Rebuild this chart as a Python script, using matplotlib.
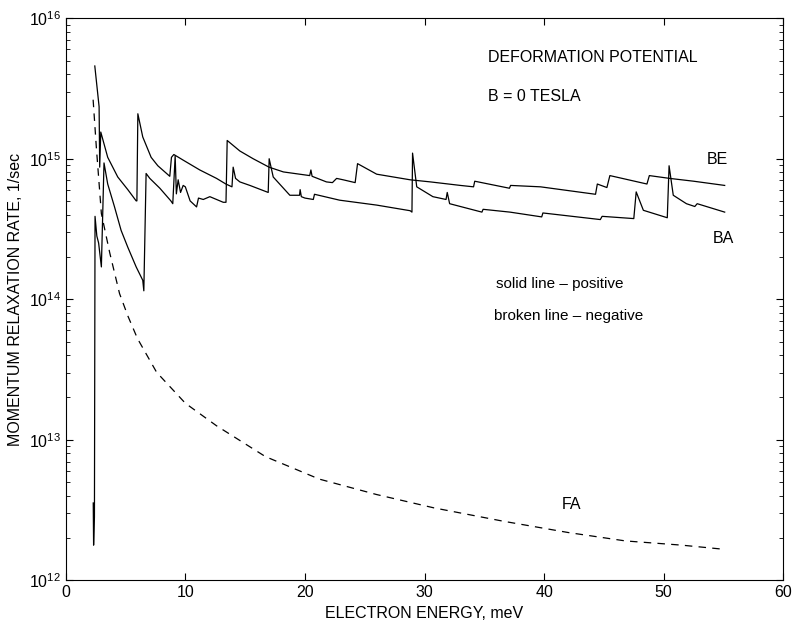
import matplotlib.pyplot as plt
import numpy as np

plt.switch_backend('agg')
plt.rcParams['font.family'] = ['Liberation Sans', 'DejaVu Sans']
plt.rcParams['mathtext.fontset'] = 'custom'
plt.rcParams['mathtext.rm'] = 'Liberation Sans'

# electron energy (meV) and log10 of momentum relaxation rate (1/sec)
be_energy = [2.30, 2.33, 2.40, 2.45, 2.60, 2.75, 2.98, 3.20, 3.51, 4.07, 4.63, 5.19, 5.89,
             6.44, 6.53, 6.72, 7.03, 7.87, 8.79, 8.95, 9.15, 9.25, 9.40, 9.60, 9.82, 10.0,
             10.4, 10.94, 11.1, 11.5, 12.05, 13.17, 13.40, 13.50, 14.56, 15.67, 17.0, 18.2,
             20.4, 20.5, 20.6, 21.8, 22.3, 22.65, 23.2, 24.2, 24.4, 26.0, 28.8, 30.5, 31.0,
             33.0, 34.1, 34.2, 37.1, 37.2, 39.7, 44.3, 44.45, 45.25, 45.5, 48.6, 48.8, 50.5,
             52.5, 55.1]
be_log = [12.55, 12.25, 12.45, 14.59, 14.45, 14.40, 14.23, 14.97, 14.82, 14.66, 14.49, 14.37,
          14.23, 14.135, 14.06, 14.895, 14.86, 14.79, 14.70, 14.68, 15.02, 14.75, 14.85, 14.76,
          14.81, 14.80, 14.70, 14.657, 14.72, 14.71, 14.73, 14.69, 14.69, 15.13, 15.055, 15.00,
          14.94, 14.906, 14.88, 14.92, 14.875, 14.835, 14.83, 14.86, 14.85, 14.83, 14.965, 14.89,
          14.85, 14.835, 14.83, 14.81, 14.80, 14.84, 14.79, 14.81, 14.80, 14.747, 14.82, 14.795,
          14.88, 14.82, 14.88, 14.86, 14.84, 14.81]

ba_energy = [2.43, 2.79, 2.84, 2.93, 3.51, 4.35, 5.19, 5.89, 5.95, 6.03, 6.44, 7.14, 7.70,
             8.70, 8.84, 9.04, 9.82, 11.21, 12.61, 13.39, 13.90, 14.0, 14.2, 14.56, 15.4,
             16.93, 17.01, 17.35, 18.74, 19.55, 19.6, 19.7, 20.0, 20.7, 20.8, 22.9, 26.0,
             28.8, 28.95, 29.0, 29.35, 30.7, 31.8, 31.9, 32.1, 34.8, 34.9, 37.15, 39.8, 39.9,
             44.7, 44.85, 47.5, 47.7, 48.3, 50.3, 50.45, 50.8, 51.9, 52.6, 52.8, 55.1]
ba_log = [15.66, 15.37, 14.94, 15.19, 15.01, 14.87, 14.78, 14.70, 14.70, 15.32, 15.155, 15.01,
          14.95, 14.875, 15.01, 15.03, 14.99, 14.92, 14.86, 14.82, 14.80, 14.94, 14.86, 14.835,
          14.81, 14.76, 15.00, 14.87, 14.74, 14.74, 14.78, 14.73, 14.72, 14.71, 14.747, 14.705,
          14.67, 14.63, 14.62, 15.04, 14.80, 14.73, 14.71, 14.76, 14.68, 14.62, 14.64, 14.62,
          14.586, 14.614, 14.567, 14.59, 14.574, 14.764, 14.633, 14.58, 14.95, 14.74, 14.68,
          14.66, 14.68, 14.62]

fa_energy = [2.29, 2.56, 2.98, 3.68, 4.5, 5.2, 6.0, 7.6, 10.0, 12.6, 16.7, 21.2, 26.0, 30.8,
             36.6, 42.0, 46.8, 51.5, 55.1]
fa_log = [15.42, 15.08, 14.61, 14.33, 14.04, 13.88, 13.72, 13.48, 13.26, 13.10, 12.88, 12.72,
          12.61, 12.515, 12.42, 12.34, 12.28, 12.25, 12.22]

fig = plt.figure(figsize=(7.92, 6.28), dpi=100)
ax = fig.add_axes([0.083, 0.076, 0.906, 0.895])

ax.semilogy(be_energy, 10 ** np.array(be_log), color='black', lw=0.9)
ax.semilogy(ba_energy, 10 ** np.array(ba_log), color='black', lw=0.9)
ax.semilogy(fa_energy, 10 ** np.array(fa_log), color='black', lw=0.9, dashes=(6, 5))

ax.set_xlim(0, 60)
ax.set_ylim(1e12, 1e16)
ax.set_xticks([0, 10, 20, 30, 40, 50, 60])
ax.tick_params(which='both', direction='in', top=True, right=True, labelsize=11.5)
ax.tick_params(which='major', length=5, width=0.8)
ax.tick_params(which='minor', length=3, width=0.6)
ax.minorticks_on()
ax.xaxis.set_minor_locator(plt.NullLocator())

ax.set_xlabel('ELECTRON ENERGY, meV', fontsize=11.5)
ax.set_ylabel('MOMENTUM RELAXATION RATE, 1/sec', fontsize=11.5)

ax.text(35.3, 10 ** 15.69, 'DEFORMATION POTENTIAL', fontsize=11.5)
ax.text(35.3, 10 ** 15.41, 'B = 0 TESLA', fontsize=11.5)
ax.text(53.6, 10 ** 14.96, 'BE', fontsize=11.5)
ax.text(54.1, 10 ** 14.40, 'BA', fontsize=11.5)
ax.text(36.0, 10 ** 14.08, 'solid line \u2013 positive', fontsize=11)
ax.text(35.8, 10 ** 13.85, 'broken line \u2013 negative', fontsize=11)
ax.text(41.5, 10 ** 12.51, 'FA', fontsize=11.5)

fig.savefig('out.png', dpi=100)
